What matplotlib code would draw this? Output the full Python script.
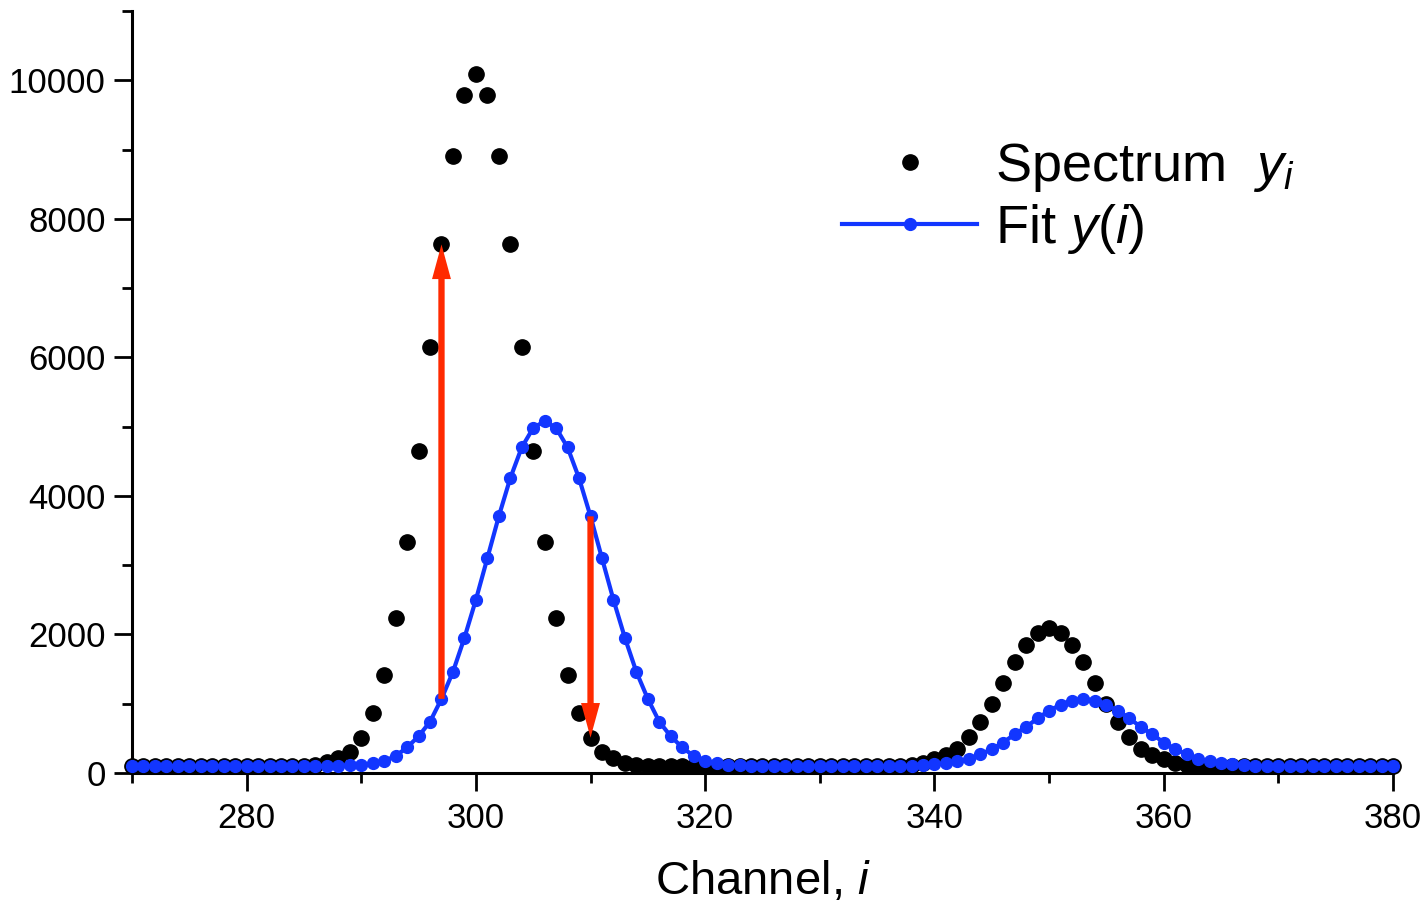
import numpy as np
import matplotlib.pyplot as plt
from matplotlib.ticker import MultipleLocator

plt.rcParams['font.family'] = ['Liberation Sans', 'DejaVu Sans']
plt.rcParams['mathtext.fontset'] = 'custom'
plt.rcParams['mathtext.rm'] = 'Liberation Sans'
plt.rcParams['mathtext.it'] = 'Liberation Sans:italic'

channels = np.arange(270, 381)

spectrum = ([100] * 15 +
            [107, 122, 160, 220, 300, 510, 870, 1420, 2240, 3330, 4650, 6150, 7630, 8900, 9780,
             10090,
             9780, 8900, 7630, 6150, 4650, 3330, 2240, 1420, 870, 510, 300, 210, 150, 122, 107] +
            [100] * 21 +
            [105, 115, 140, 195, 260, 350, 520, 735, 1000, 1300, 1600, 1850, 2020,
             2100,
             2020, 1850, 1600, 1300, 1000, 735, 520, 350, 260, 195, 140, 115, 105] +
            [100] * 17)

fit = ([100] * 18 +
       [105, 110, 118, 140, 175, 245, 370, 530, 740, 1070, 1460, 1950, 2500, 3100, 3705, 4255,
        4700, 4980,
        5080,
        4980, 4700, 4255, 3705, 3100, 2500, 1950, 1460, 1070, 740, 530, 370, 245, 175, 140, 118,
        110, 105] +
       [100] * 13 +
       [105, 112, 125, 140, 170, 205, 270, 345, 440, 560, 665, 790, 900, 985, 1045,
        1075,
        1045, 985, 900, 790, 665, 560, 440, 345, 270, 205, 170, 140, 125, 112, 105] +
       [100] * 12)

arrow_channels = [297, 310]

blue = '#1236ff'
red = '#ff2a00'

fig = plt.figure(figsize=(14.22, 9.06), dpi=100)
ax = fig.add_axes([0.0928, 0.1468, 0.8868, 0.8411])

# black spectrum underneath, fit drawn over it
ax.plot(channels, spectrum, 'o', color='black', ms=11, zorder=2, clip_on=False,
        label='Spectrum  $y_i$')
ax.plot(channels, fit, '-o', color=blue, lw=3, ms=8.5, zorder=3, clip_on=False,
        label='Fit $y$($i$)')

for c in arrow_channels:
    k = c - 270
    y0 = fit[k]
    y1 = spectrum[k]
    ax.arrow(c, y0, 0, y1 - y0, width=0.55, head_width=1.65, head_length=500,
             length_includes_head=True, color=red, lw=0, zorder=4)

ax.set_xlim(270, 380)
ax.set_ylim(0, 11000)
ax.xaxis.set_major_locator(MultipleLocator(20))
ax.xaxis.set_minor_locator(MultipleLocator(10))
ax.yaxis.set_major_locator(MultipleLocator(2000))
ax.yaxis.set_minor_locator(MultipleLocator(1000))

for s in ['top', 'right']:
    ax.spines[s].set_visible(False)
for s in ['left', 'bottom']:
    ax.spines[s].set_linewidth(2.2)

ax.tick_params(which='major', direction='out', length=13, width=2, labelsize=25)
ax.tick_params(which='minor', direction='out', length=7, width=2)
ax.tick_params(axis='y', pad=6)
ax.tick_params(axis='x', pad=8)

ax.set_xlabel('Channel, $i$', fontsize=34, labelpad=18)

ax.legend(loc='upper left', bbox_to_anchor=(0.563, 0.83),
          frameon=False, fontsize=39, handlelength=2.5, handletextpad=0.33,
          labelspacing=0.15, borderpad=0, borderaxespad=0, markerscale=1.0)

fig.savefig('out.png', dpi=100)
